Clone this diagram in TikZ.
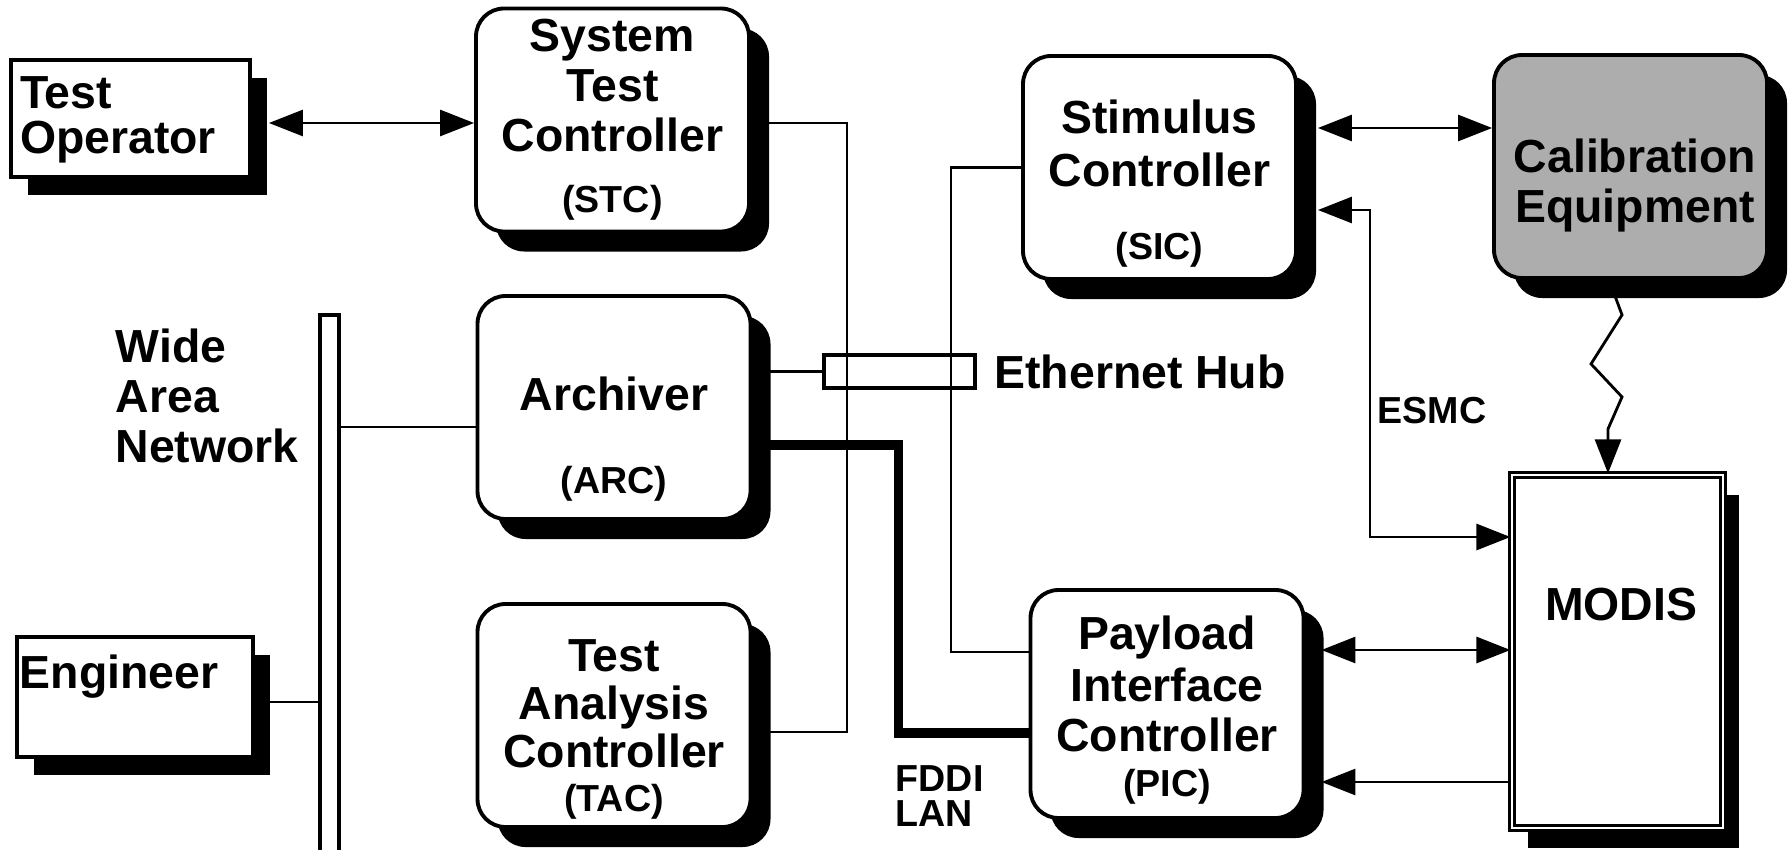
\documentclass[tikz,border=0pt]{standalone}
\usepackage{fontspec}
\setmainfont{Liberation Sans}
\usepackage{tikz}
\usetikzlibrary{arrows.meta, shadows, positioning}

\newcommand{\abbrsize}{\fontsize{10.7}{12}\selectfont}

\tikzset{
	userbox/.style={
			draw, line width=1.1pt, fill=white,
			drop shadow={shadow xshift=0.17cm, shadow yshift=-0.18cm, fill=black, opacity=1}
		}
}
\tikzset{
	ctrlbox/.style={
			draw, line width=1.1pt, fill=white, rounded corners=0.28cm,
			minimum width=2.73cm, minimum height=2.23cm,
			drop shadow={shadow xshift=0.2cm, shadow yshift=-0.2cm, fill=black, opacity=1}
		}
}
\tikzset{
	boxtext/.style={font=\fontsize{13.2}{14.2}\selectfont\bfseries, align=center, inner sep=0pt}
}
\tikzset{
	smalltext/.style={font=\abbrsize\bfseries, align=left, inner sep=0pt}
}
\tikzset{
	wire/.style={line width=0.65pt},
	fddi/.style={line width=2.8pt},
	duplex/.style={line width=0.8pt, {Triangle[length=0.34cm,width=0.26cm]}-{Triangle[length=0.34cm,width=0.26cm]}},
	simplex/.style={line width=0.8pt, -{Triangle[length=0.34cm,width=0.26cm]}}
}

\begin{document}
\begin{tikzpicture}

	\useasboundingbox (0,0) rectangle (17.88,-8.49);

	\begin{scope}
		\node[userbox, minimum width=2.39cm, minimum height=1.17cm] (op) at (1.305,-1.185) {};
		\node[userbox, minimum width=2.36cm, minimum height=1.20cm] (eng) at (1.35,-6.97) {};

		\node[ctrlbox] (stc) at (6.125,-1.20) {};
		\node[ctrlbox] (arc) at (6.14,-4.075) {};
		\node[ctrlbox] (tac) at (6.14,-7.155) {};
		\node[ctrlbox] (sic) at (11.595,-1.675) {};
		\node[ctrlbox, minimum height=2.28cm] (pic) at (11.67,-7.04) {};
		\node[ctrlbox, fill=black!32] (cal) at (16.305,-1.665) {};

		\node[draw, line width=0.9pt, double=white, double distance=0.6pt, fill=white,
			minimum width=2.11cm, minimum height=3.53cm,
			drop shadow={shadow xshift=0.16cm, shadow yshift=-0.2cm, fill=black, opacity=1}] (modis) at (16.175,-6.515) {};

		\node[draw, line width=0.9pt, fill=white, minimum width=0.19cm, minimum height=5.4cm, inner sep=0pt] (wan) at (3.295,-5.85) {};
		\node[draw, line width=1pt, minimum width=1.51cm, minimum height=0.33cm, inner sep=0pt] (hub) at (8.995,-3.715) {};
	\end{scope}

	\begin{scope}
		\node[boxtext, align=left] (opT) at ([shift={(-0.125,-0.01)}]op.center) {Test\\[-1.4pt]Operator};
		\node[boxtext] (engT) at ([shift={(-0.16,0.20)}]eng.center) {Engineer};
		\node[boxtext] (stcT) at (stc.center) {System\\Test\\Controller\\[3.1pt]{\abbrsize (STC)}};
		\node[boxtext] (arcT) at ([yshift=-0.315cm]arc.center) {Archiver\\[9.4pt]{\abbrsize (ARC)}};
		\node[boxtext] (tacT) at ([yshift=-0.14cm]tac.center) {Test\\[-0.6pt]Analysis\\[-0.6pt]Controller\\[-1.7pt]{\abbrsize (TAC)}};
		\node[boxtext] (sicT) at ([yshift=-0.16cm]sic.center) {Stimulus\\[1.1pt]Controller\\[6.5pt]{\abbrsize (SIC)}};
		\node[boxtext] (picT) at ([yshift=-0.06cm]pic.center) {Payload\\[0.6pt]Interface\\Controller\\[-1.4pt]{\abbrsize (PIC)}};
		\node[boxtext] (calT) at ([shift={(0.045,-0.19)}]cal.center) {Calibration\\Equipment};
		\node[boxtext] (modisT) at ([shift={(0.035,0.465)}]modis.center) {MODIS};
		\node[boxtext, align=left, anchor=west] (wanT) at (1.15,-3.96) {Wide\\Area\\Network};
		\node[boxtext, right=0.17cm of hub] (hubT) {Ethernet Hub};
		\node[smalltext, anchor=west] (esmcT) at (13.77,-4.11) {ESMC};
		\node[smalltext, anchor=west, font=\fontsize{10.7}{9.8}\selectfont\bfseries] (fddiT) at (8.95,-7.96) {FDDI\\LAN};
	\end{scope}

	\coordinate (busA) at (8.47,-4);
	\coordinate (busB) at (9.51,-4);
	\coordinate (busF) at (8.985,-5);
	\coordinate (busE) at (13.70,-3.5);

	\draw[duplex, shorten <=0.17cm] ([yshift=-0.045cm]op.east) -- ([yshift=-0.045cm]op.east -| stc.west);
	\draw[wire] ([yshift=-0.03cm]stc.east) -| (busA) |- ([yshift=-0.165cm]tac.east);
	\draw[wire] (sic.west) -| (busB) |- ([yshift=0.52cm]pic.west);
	\draw[wire] (hub.west) -- (hub.west -| arc.east);
	\draw[fddi] ([yshift=-0.375cm]arc.east) -| (busF) |- ([yshift=-0.29cm]pic.west);
	\draw[wire] ([yshift=-0.195cm]arc.west) -- ([yshift=-0.195cm]arc.west -| wan.east);
	\draw[wire] ([yshift=-0.05cm]eng.east) -- ([yshift=-0.05cm]eng.east -| wan.west);
	\draw[duplex, shorten <=0.2cm] ([yshift=0.395cm]sic.east) -- ([yshift=0.395cm]sic.east -| cal.west);
	\draw[duplex, shorten <=0.2cm] ([yshift=-0.425cm]sic.east) -| (busE) |- ([yshift=1.145cm]modis.west);
	\draw[duplex, shorten <=0.16cm] ([yshift=0.54cm]pic.east) -- ([yshift=0.54cm]pic.east -| modis.west);
	\draw[simplex, shorten >=0.16cm] ([yshift=-0.78cm]pic.east -| modis.west) -- ([yshift=-0.78cm]pic.east);
	\draw[simplex, line join=miter] ([xshift=-0.215cm]cal.south) -- ++(0.13,-0.35) -- ++(-0.31,-0.49) -- ++(0.31,-0.33) -- ++(-0.14,-0.32) -- ([xshift=-0.095cm]modis.north);

\end{tikzpicture}
\end{document}
